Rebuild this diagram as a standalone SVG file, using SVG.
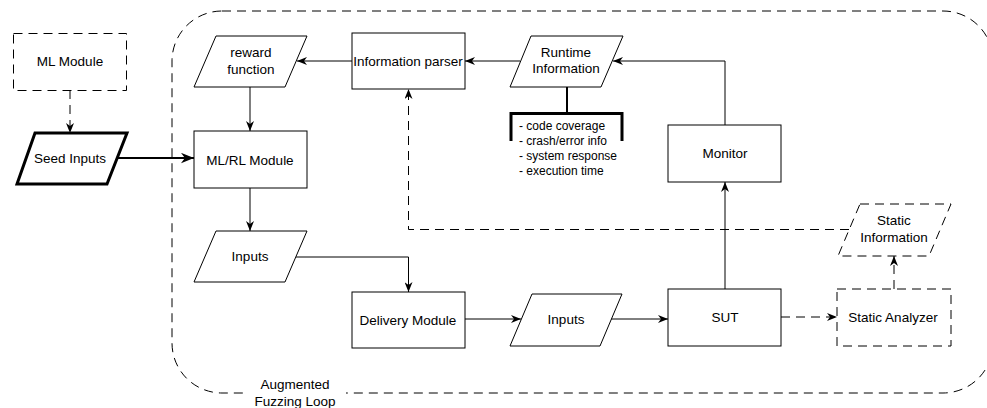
<svg xmlns="http://www.w3.org/2000/svg" width="987" height="408" viewBox="0 0 987 408">
  <defs>
    <style>
      text { font-family: "Liberation Sans", Arial, Helvetica, sans-serif; font-size: 13.5px; fill: #000; text-anchor: middle; dominant-baseline: central; }
      .list { font-size: 12px; text-anchor: start; }
      .box { fill: #fff; stroke: #000; stroke-width: 1; }
      .dash { stroke-dasharray: 9 6; }
      .bold { stroke-width: 3; }
      .edge { fill: none; stroke: #000; stroke-width: 1; }
      .thick { stroke-width: 2; }
    </style>
    <marker id="arr" viewBox="0 0 10 8" refX="10" refY="4" markerWidth="10" markerHeight="8" markerUnits="userSpaceOnUse" orient="auto">
      <path d="M0,0 L10,4 L0,8 L3,4 Z" fill="#000" stroke="none"/>
    </marker>
    <marker id="arrBig" viewBox="0 0 10 8" refX="10" refY="4" markerWidth="13" markerHeight="11" markerUnits="userSpaceOnUse" orient="auto">
      <path d="M0,0 L10,4 L0,8 L3,4 Z" fill="#000" stroke="none"/>
    </marker>
  </defs>

  <rect width="987" height="408" fill="#fff"/>

  <!-- loop boundary -->
  <g id="loop">
    <rect x="172" y="11" width="821" height="382" rx="50" ry="50" class="edge dash"/>
    <rect x="244" y="375" width="102" height="33" fill="#fff"/>
    <text x="295" y="384">Augmented</text>
    <text x="295" y="401">Fuzzing Loop</text>
  </g>

  <!-- connectors -->
  <g id="connectors">
    <path d="M70,90 V133" class="edge dash" marker-end="url(#arr)"/>
    <path d="M118,158 H194" class="edge thick" marker-end="url(#arrBig)"/>
    <path d="M352,61 H297" class="edge" marker-end="url(#arr)"/>
    <path d="M520,61 H465" class="edge" marker-end="url(#arr)"/>
    <path d="M725,125 V61 H613" class="edge" marker-end="url(#arr)"/>
    <path d="M250,87 V131" class="edge" marker-end="url(#arr)"/>
    <path d="M250,188 V231" class="edge" marker-end="url(#arr)"/>
    <path d="M296,257 H408.5 V292" class="edge" marker-end="url(#arr)"/>
    <path d="M465,319 H521" class="edge" marker-end="url(#arr)"/>
    <path d="M611,319 H668" class="edge" marker-end="url(#arr)"/>
    <path d="M725,289 V182" class="edge" marker-end="url(#arr)"/>
    <path d="M781,317 H837" class="edge dash" marker-end="url(#arr)"/>
    <path d="M894,289 V256" class="edge dash" marker-end="url(#arr)"/>
    <path d="M849,229.5 H408.5 V89" class="edge dash" marker-end="url(#arr)"/>
  </g>

  <g id="ml-module">
    <rect x="13.5" y="33.5" width="113" height="57" class="box dash"/>
    <text x="70" y="61">ML Module</text>
  </g>

  <g id="seed-inputs">
    <polygon points="35,133 127,133 107,184 17,184" class="box bold"/>
    <text x="70" y="158">Seed Inputs</text>
  </g>

  <g id="reward-function">
    <polygon points="216,36 307,36 285,87 194,87" class="box"/>
    <text x="251" y="52">reward</text>
    <text x="251" y="69">function</text>
  </g>

  <g id="ml-rl-module">
    <rect x="194" y="131" width="113" height="57" class="box"/>
    <text x="250" y="160">ML/RL Module</text>
  </g>

  <g id="information-parser">
    <rect x="352" y="33" width="113" height="56" class="box"/>
    <text x="408" y="61">Information parser</text>
  </g>

  <g id="runtime-information">
    <polygon points="531,36 623,36 601,87 510,87" class="box"/>
    <text x="566" y="52">Runtime</text>
    <text x="566" y="68">Information</text>
  </g>

  <g id="runtime-details">
    <path d="M567,87 V113" fill="none" stroke="#000" stroke-width="2"/>
    <path d="M511,141 V113.5 H622 V141" fill="none" stroke="#000" stroke-width="3"/>
    <text x="519" y="126" class="list">- code coverage</text>
    <text x="519" y="141" class="list">- crash/error info</text>
    <text x="519" y="156" class="list">- system response</text>
    <text x="519" y="171" class="list">- execution time</text>
  </g>

  <g id="monitor">
    <rect x="668" y="125" width="113" height="57" class="box"/>
    <text x="725" y="153">Monitor</text>
  </g>

  <g id="inputs-generated">
    <polygon points="216,231 307,231 285,282 194,282" class="box"/>
    <text x="250" y="256">Inputs</text>
  </g>

  <g id="delivery-module">
    <rect x="352" y="292" width="113" height="56" class="box"/>
    <text x="408" y="320">Delivery Module</text>
  </g>

  <g id="inputs-delivered">
    <polygon points="532,294 622,294 600,346 510,346" class="box"/>
    <text x="566" y="319">Inputs</text>
  </g>

  <g id="sut">
    <rect x="668" y="289" width="113" height="57" class="box"/>
    <text x="725" y="317">SUT</text>
  </g>

  <g id="static-analyzer">
    <rect x="837" y="289" width="114" height="57" class="box dash"/>
    <text x="893" y="317">Static Analyzer</text>
  </g>

  <g id="static-information">
    <polygon points="860,204 951,204 929,256 838,256" class="box dash"/>
    <text x="894" y="220">Static</text>
    <text x="894" y="237">Information</text>
  </g>
</svg>
